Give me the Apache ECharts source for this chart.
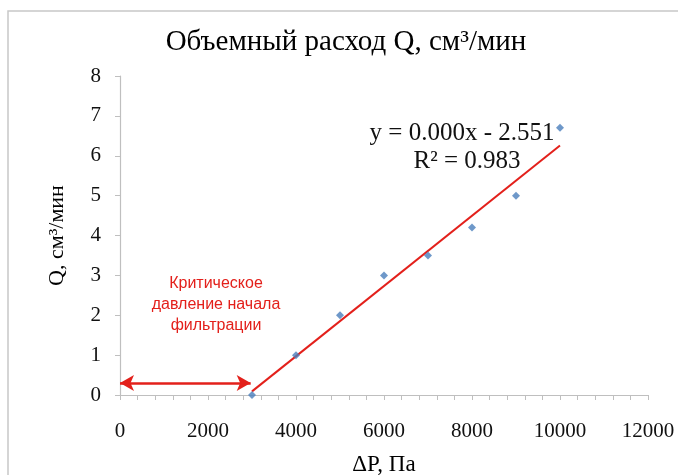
<!DOCTYPE html>
<html>
<head>
<meta charset="utf-8">
<script src="https://cdn.jsdelivr.net/npm/echarts@6/dist/echarts.min.js"></script>
<style>
  html, body { margin: 0; padding: 0; background: #fff; }
  #chart { width: 678px; height: 475px; }
</style>
</head>
<body>
<div id="chart"></div>
<script>
// Pressure drop ΔP (Pa) and volumetric flow Q (cm³/min)
const pressure = [3000, 4000, 5000, 6000, 7000, 8000, 9000, 10000];
const flow = [0, 1, 2, 3, 3.5, 4.2, 5, 6.7];

// Axis settings
const xTicks = { min: 0, max: 12000, interval: 2000 };
const yTicks = { min: 0, max: 8, interval: 1 };

// Critical pressure arrow (from 0 up to the start of filtration)
const arrowFrom = [0, 0.3];
const arrowTo = [2970, 0.3];

// Texts
const titleText = 'Объемный расход Q, см³/мин';
const xName = 'ΔP, Па';
const yName = 'Q, см³/мин';
const noteLines = ['Критическое', 'давление начала', 'фильтрации'];
const eqText = 'y = 0.000x - 2.551';
const r2Text = 'R² = 0.983';

// Least-squares trend line
function linearFit(xs, ys) {
  const n = xs.length;
  const mx = xs.reduce((a, b) => a + b, 0) / n;
  const my = ys.reduce((a, b) => a + b, 0) / n;
  let sxy = 0, sxx = 0;
  for (let i = 0; i < n; i++) {
    sxy += (xs[i] - mx) * (ys[i] - my);
    sxx += (xs[i] - mx) * (xs[i] - mx);
  }
  const slope = sxy / sxx;
  return { slope, intercept: my - slope * mx };
}
const fit = linearFit(pressure, flow);
const xFirst = pressure[0], xLast = pressure[pressure.length - 1];
const trend = [
  [xFirst, fit.slope * xFirst + fit.intercept],
  [xLast, fit.slope * xLast + fit.intercept]
];

const serif = '"Liberation Serif", "Times New Roman", serif';
const sans = '"Liberation Sans", Arial, sans-serif';
const axisGray = '#bfbfbf';
const red = '#e3201b';

const chart = echarts.init(document.getElementById('chart'), null, { renderer: 'canvas' });
chart.setOption({
  animation: false,
  backgroundColor: '#fff',
  grid: { left: 120, right: 30, top: 76, bottom: 80, containLabel: false, outerBoundsMode: 'none' },
  xAxis: {
    type: 'value',
    min: xTicks.min, max: xTicks.max, interval: xTicks.interval,
    name: xName,
    nameLocation: 'middle',
    nameGap: 58,
    nameTextStyle: { fontFamily: serif, fontSize: 23, color: '#000' },
    axisLine: { show: true, lineStyle: { color: axisGray, width: 1.2 } },
    axisTick: { show: true, length: 5, lineStyle: { color: axisGray } },
    minorTick: { show: true, splitNumber: 5, length: 5, lineStyle: { color: axisGray } },
    splitLine: { show: false },
    axisLabel: { fontFamily: serif, fontSize: 21, color: '#111', margin: 26, formatter: v => String(v) }
  },
  yAxis: {
    type: 'value',
    min: yTicks.min, max: yTicks.max, interval: yTicks.interval,
    name: yName,
    nameLocation: 'middle',
    nameGap: 52,
    nameRotate: 90,
    nameTextStyle: { fontFamily: serif, fontSize: 22, color: '#000' },
    axisLine: { show: true, lineStyle: { color: axisGray, width: 1.2 } },
    axisTick: { show: true, length: 5, lineStyle: { color: axisGray } },
    splitLine: { show: false },
    axisLabel: { fontFamily: serif, fontSize: 21, color: '#111', margin: 19 }
  },
  series: [
    {
      name: 'trend',
      type: 'line',
      data: trend,
      symbol: 'none',
      lineStyle: { color: red, width: 2 },
      z: 2,
      markLine: {
        silent: true,
        symbol: ['arrow', 'arrow'],
        symbolSize: [12, 14],
        lineStyle: { color: red, width: 2.5, type: 'solid' },
        label: { show: false },
        data: [[{ coord: arrowFrom }, { coord: arrowTo }]]
      }
    },
    {
      name: 'Q',
      type: 'scatter',
      data: pressure.map((x, i) => [x, flow[i]]),
      symbol: 'diamond',
      symbolSize: 8,
      itemStyle: { color: '#4a7ebb' },
      z: 3
    }
  ],
  graphic: [
    {
      type: 'rect',
      shape: { x: 8, y: 11, width: 700, height: 500 },
      style: { fill: 'none', stroke: '#c8c8c8', lineWidth: 1.5 },
      silent: true,
      z: -1
    },
    {
      type: 'text',
      x: 346, y: 42,
      style: { text: titleText, font: '29px ' + serif, fill: '#000', align: 'center', verticalAlign: 'middle' }
    },
    {
      type: 'text',
      x: 216, y: 305,
      style: {
        text: noteLines.join('\n'),
        font: '16px ' + sans,
        fill: red,
        align: 'center',
        verticalAlign: 'middle',
        lineHeight: 21
      }
    },
    {
      type: 'text',
      x: 462, y: 133,
      style: { text: eqText, font: '25px ' + serif, fill: '#111', align: 'center', verticalAlign: 'middle' }
    },
    {
      type: 'text',
      x: 467, y: 161,
      style: { text: r2Text, font: '25px ' + serif, fill: '#111', align: 'center', verticalAlign: 'middle' }
    }
  ]
});
</script>
</body>
</html>
